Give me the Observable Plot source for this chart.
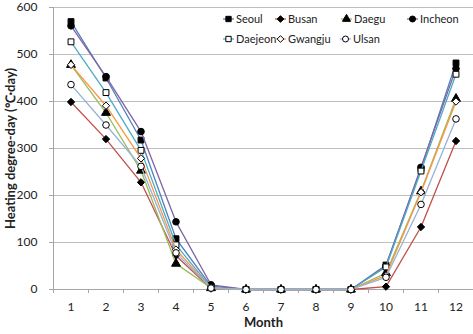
<!DOCTYPE html>
<html>
<head>
<meta charset="utf-8">
<script src="https://cdn.jsdelivr.net/npm/d3@7"></script>
<script src="https://cdn.jsdelivr.net/npm/@observablehq/plot@0.6"></script>
<style>
  html, body { margin: 0; padding: 0; background: #fff; }
  #wrap { position: relative; width: 473px; height: 334px; }
  #legend { position: absolute; left: 0; top: 0; pointer-events: none; }
</style>
</head>
<body>
<div id="wrap"></div>
<script>
const months = [1, 2, 3, 4, 5, 6, 7, 8, 9, 10, 11, 12];
const yTicks = [0, 100, 200, 300, 400, 500, 600];
const seoul   = [570, 450, 318, 108, 7, 0, 0, 0, 0, 52, 257, 482];
const busan   = [399, 320, 228, 72, 2, 0, 0, 0, 0, 6, 133, 316];
const daegu   = [478, 376, 253, 55, 3, 0, 0, 0, 0, 35, 209, 406];
const incheon = [561, 453, 336, 144, 10, 0, 0, 0, 0, 50, 260, 470];
const daejeon = [527, 419, 296, 95, 4, 0, 0, 0, 0, 48, 252, 458];
const gwangju = [478, 391, 279, 85, 3, 0, 0, 0, 0, 30, 207, 400];
const ulsan   = [436, 350, 262, 78, 3, 0, 0, 0, 0, 26, 181, 363];

const seriesNames = ["Seoul", "Busan", "Daegu", "Incheon", "Daejeon", "Gwangju", "Ulsan"];
const seriesValues = [seoul, busan, daegu, incheon, daejeon, gwangju, ulsan];
const seriesColors = ["#4F81BD", "#C0504D", "#9BBB59", "#8064A2", "#4BACC6", "#F79646", "#95B3D7"];
const seriesSymbols = ["square", "diamond2", "triangle", "circle", "square", "diamond2", "circle"];
const seriesFills = ["black", "black", "black", "black", "white", "white", "white"];

const FONT = "Lato, 'Liberation Sans', sans-serif";

const series = seriesNames.map((name, k) => ({
  name,
  color: seriesColors[k],
  symbol: seriesSymbols[k],
  fill: seriesFills[k],
  data: months.map((m, i) => ({ series: name, month: m, value: seriesValues[k][i] }))
}));

const marks = [
  Plot.gridY(yTicks.filter(d => d > 0), { stroke: "#bfbfbf", strokeOpacity: 1 }),
  Plot.ruleX([0.5], { stroke: "#a6a6a6" }),
  Plot.ruleY([0], { stroke: "#a6a6a6" }),
  Plot.axisY({ ticks: yTicks, tickSize: 4, tickPadding: 12, label: null, stroke: "#a6a6a6", fill: "#222" }),
  Plot.axisX({ ticks: d3.range(0.5, 13, 1), tickFormat: () => "", tickSize: 4, label: null, stroke: "#a6a6a6" }),
  Plot.axisX({ ticks: months, tickSize: 0, tickPadding: 13, label: null, fill: "#222" }),
  Plot.text(["Month"], { frameAnchor: "bottom", dy: 37, fontWeight: "bold", fontSize: 13, fill: "#222" }),
  Plot.text(["Heating degree-day (℃·day)"], { frameAnchor: "left", textAnchor: "middle", dx: -43, rotate: -90, fontWeight: "bold", fontSize: 13, fill: "#222" })
];

for (const s of series) {
  marks.push(Plot.line(s.data, { x: "month", y: "value", stroke: s.color, strokeWidth: 1.3 }));
  marks.push(Plot.dot(s.data, { x: "month", y: "value", symbol: s.symbol, fill: s.fill, stroke: "black", strokeWidth: 1, r: 3.3 }));
}

const chart = Plot.plot({
  width: 473,
  height: 334,
  marginLeft: 53,
  marginRight: 0,
  marginTop: 7,
  marginBottom: 45,
  x: { domain: [0.5, 12.5] },
  y: { domain: [0, 600] },
  style: { fontFamily: FONT, fontSize: "12px", background: "white" },
  marks
});
document.getElementById("wrap").appendChild(chart);

// Legend (two rows, four columns)
const legendTextX = [236, 288, 354, 420, 236, 288, 353];
const legendRowY = [19, 19, 19, 19, 39, 39, 39];
const lsvg = d3.select("#wrap").append("svg")
  .attr("id", "legend")
  .attr("width", 473).attr("height", 334);
const symMap = { square: d3.symbolSquare, diamond2: d3.symbolDiamond2, triangle: d3.symbolTriangle, circle: d3.symbolCircle };
series.forEach((s, k) => {
  const tx = legendTextX[k], ty = legendRowY[k];
  const g = lsvg.append("g");
  g.append("line")
    .attr("x1", tx - 13).attr("x2", tx - 2)
    .attr("y1", ty).attr("y2", ty)
    .attr("stroke", s.color).attr("stroke-width", 1.3);
  g.append("path")
    .attr("d", d3.symbol(symMap[s.symbol], 3.0 * 3.0 * Math.PI)())
    .attr("transform", `translate(${tx - 7.5},${ty})`)
    .attr("fill", s.fill).attr("stroke", "black").attr("stroke-width", 1);
  g.append("text")
    .attr("x", tx).attr("y", ty)
    .attr("dy", "0.35em")
    .attr("font-family", FONT)
    .attr("font-size", 11)
    .attr("fill", "#222")
    .text(s.name);
});
</script>
</body>
</html>
